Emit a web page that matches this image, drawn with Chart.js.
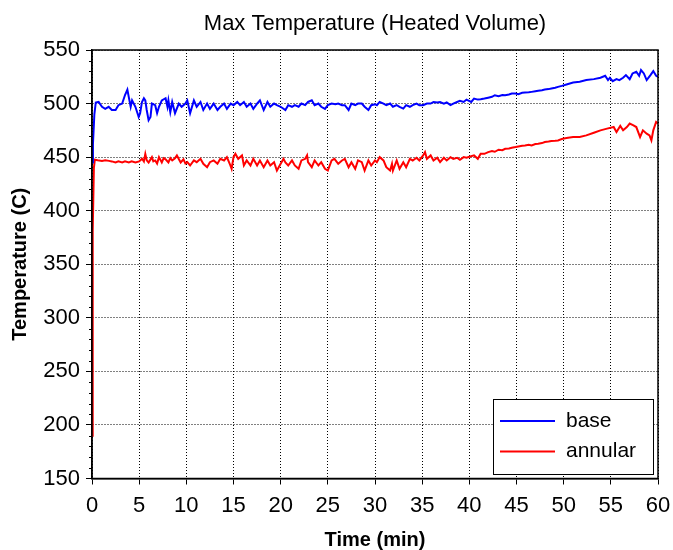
<!DOCTYPE html>
<html>
<head>
<meta charset="utf-8">
<script src="https://cdn.jsdelivr.net/npm/chart.js@4/dist/chart.umd.min.js"></script>
<style>
  html, body { margin: 0; padding: 0; background: #fff; }
  canvas { display: block; }
</style>
</head>
<body>
<canvas id="maxTempChart" width="673" height="550"></canvas>
<script>
// time (min) and max temperature (C) of the heated volume
const baseTime = [0, 0.1, 0.25, 0.4, 0.7, 1.06, 1.4, 1.77, 2.1, 2.5, 2.8, 3.2, 3.5, 3.75, 3.9, 4.1, 4.25, 4.6, 4.95, 5.1,
  5.3, 5.5, 5.65, 5.8, 6.0, 6.2, 6.35, 6.7, 6.9, 7.1, 7.4, 7.8, 8.0, 8.1, 8.3, 8.5, 8.8, 9.2, 9.5, 9.9,
  10.1, 10.4, 10.8, 11.1, 11.5, 11.8, 12.2, 12.5, 12.9, 13.3, 13.6, 14.0, 14.3, 14.7, 15.0, 15.4, 15.7, 16.1, 16.4, 16.8,
  17.1, 17.5, 17.8, 18.2, 18.6, 18.9, 19.3, 19.6, 20.0, 20.5, 20.8, 21.2, 21.5, 21.9, 22.2, 22.6, 22.9, 23.3, 23.6, 24.0,
  24.3, 24.7, 25.0, 25.4, 25.8, 26.1, 26.5, 26.8, 27.2, 27.5, 27.9, 28.2, 28.6, 28.9, 29.3, 29.6, 30.0, 30.2, 30.5, 30.9,
  31.2, 31.6, 31.9, 32.3, 32.6, 33.0, 33.3, 33.7, 34.0, 34.4, 34.7, 35.1, 35.5, 35.9, 36.2, 36.6, 36.9, 37.3, 37.6, 38.0,
  38.3, 38.7, 39.0, 39.4, 39.7, 40.2, 40.5, 40.9, 41.2, 41.6, 42.0, 42.4, 42.7, 43.1, 43.5, 43.8, 44.2, 44.5, 44.9, 45.2,
  45.6, 45.9, 46.3, 46.6, 47.0, 47.3, 47.7, 48.0, 48.4, 48.7, 49.1, 49.4, 49.8, 50.3, 51.0, 51.7, 52.4, 53.2, 53.9, 54.4,
  54.7, 54.9, 55.2, 55.6, 55.9, 56.3, 56.6, 57.0, 57.3, 57.7, 58.0, 58.2, 58.5, 58.8, 59.2, 59.5, 59.8, 60.0];
const baseTemp = [445, 462, 490, 501, 501.5, 497, 495, 497, 494, 494, 498.5, 500, 508, 513, 506, 497, 503, 497, 487.5, 491,
  501.5, 505, 503, 494, 484.5, 487.5, 500, 498.5, 491, 497, 503, 505, 497, 503, 492, 501.5, 491, 500, 497, 500,
  503, 491, 503, 497, 501.5, 494, 500, 495, 500, 494, 497, 500, 495, 500, 498.5, 501.5, 498.5, 501.5, 497, 500,
  495, 500, 503, 494, 501.5, 497, 500, 498.5, 497, 494, 498.5, 497, 498.5, 497, 500, 498.5, 501.5, 503, 498.5, 500,
  497, 495, 498.5, 500, 499.4, 500, 498.5, 498.5, 494, 500, 498.5, 500, 500, 497, 494, 498.5, 499.4, 498.5, 501.5, 500,
  498.5, 500, 497, 498.5, 497, 495.3, 498.5, 497, 498.5, 500, 498.5, 498.5, 500, 500, 501.5, 501, 501.5, 500, 501, 498.5,
  500, 501.5, 502.5, 501.5, 503.7, 501.5, 504.7, 503.7, 504, 504.7, 505.5, 506.3, 507.8, 506.9, 508, 507.8, 508.5, 509.4, 509.4, 508.8,
  510, 510.3, 510.5, 510.9, 511.5, 511.9, 512.5, 513.1, 513.5, 514.1, 514.8, 515.6, 516.5, 517.8, 519.7, 520.3, 521.9, 522.8, 524.1, 525.9,
  521.9, 524.1, 520.9, 522.8, 521.9, 524.1, 526.6, 522.8, 528.1, 529.7, 525.9, 531.3, 528.1, 521.9, 526.6, 530.3, 525.9, 525];

const annularTime = [0, 0.05, 0.1, 0.2, 0.3, 0.6, 1.06, 1.4, 1.8, 2.1, 2.5, 2.8, 3.2, 3.5, 3.9, 4.2, 4.6, 5.0, 5.3, 5.5,
  5.65, 5.8, 6.0, 6.35, 6.5, 6.7, 6.9, 7.1, 7.4, 7.6, 7.8, 8.1, 8.3, 8.5, 8.8, 9.0, 9.4, 9.7, 9.9,
  10.1, 10.4, 10.8, 11.1, 11.5, 11.8, 12.2, 12.5, 12.9, 13.3, 13.6, 14.0, 14.3, 14.6, 14.8, 15.0, 15.2, 15.5, 15.9, 16.1,
  16.4, 16.8, 17.1, 17.5, 17.8, 18.2, 18.6, 18.9, 19.3, 19.6, 20.0, 20.3, 20.5, 20.8, 21.2, 21.5, 21.9, 22.2, 22.6, 22.8,
  22.9, 23.3, 23.6, 24.0, 24.3, 24.7, 25.0, 25.4, 25.7, 26.1, 26.5, 26.8, 27.2, 27.5, 27.9, 28.2, 28.6, 28.9, 29.3, 29.6,
  30.0, 30.2, 30.5, 30.9, 31.2, 31.6, 31.8, 31.9, 32.3, 32.6, 33.0, 33.3, 33.7, 34.0, 34.4, 34.7, 35.1, 35.3, 35.5, 35.9,
  36.2, 36.6, 36.9, 37.3, 37.6, 38.0, 38.3, 38.7, 39.0, 39.4, 39.7, 40.1, 40.5, 40.9, 41.2, 41.6, 42.0, 42.4, 42.7, 43.1,
  43.5, 43.8, 44.2, 44.5, 44.9, 45.2, 45.6, 45.9, 46.3, 46.6, 47.0, 47.3, 47.7, 48.0, 48.4, 48.7, 49.1, 49.4, 49.8, 50.3,
  51.0, 51.7, 52.4, 53.2, 53.9, 54.6, 55.3, 55.6, 56.0, 56.3, 56.7, 57.0, 57.4, 57.7, 58.1, 58.4, 58.8, 59.1, 59.3, 59.5,
  59.8, 60.0];
const annularTemp = [190, 280, 380, 440, 447.5, 447, 446.5, 447, 446.5, 446, 445, 446, 445, 446, 445, 446, 445, 446, 448.5, 446,
  453, 447, 445, 450, 446, 446.9, 444, 450, 445, 449, 448, 445, 449, 446.9, 449, 451.5, 445, 448, 444,
  445.3, 442.2, 446.9, 445.3, 448.4, 443.8, 440.6, 445.3, 446.9, 443.8, 448.4, 446.9, 450, 443.8, 439.1, 450, 453.1, 448.4, 451.6, 442.2,
  446.9, 442.2, 448.4, 442.2, 446.9, 440.6, 446.9, 442.2, 445.3, 437.5, 443.8, 448.4, 445, 442.2, 446.9, 442.2, 439.1, 446.9, 448.4, 451.6,
  445.3, 440.6, 446.9, 442.2, 445.3, 439.1, 437.5, 446.9, 448.4, 443.8, 446.9, 448.4, 440.6, 445.3, 439.1, 446.9, 445.3, 437.5, 446.9, 442.2,
  446.9, 445.3, 450, 446.9, 440.6, 437.5, 443.8, 437.5, 446.9, 439.1, 445.3, 440.6, 448.4, 446.9, 449.4, 446.9, 451.6, 454.7, 448.4, 451.6,
  446.9, 449.4, 445.3, 449.4, 446.9, 450, 448.4, 449.4, 447.5, 450, 449.4, 450.6, 451.6, 448.4, 453.1, 453.1, 454.7, 455.6, 455, 456.9,
  456.5, 457.8, 458.1, 458.8, 459.4, 460, 460.6, 460.9, 461.5, 460.9, 462.2, 462.5, 463.1, 464.1, 464.5, 465, 465.3, 465.6, 466.9, 467.8,
  468.8, 468.8, 470.3, 472.8, 475, 476.6, 478.1, 473.4, 479.1, 475, 478.1, 481.3, 479.7, 478.1, 468.8, 475, 471.9, 470.3, 465.6, 475,
  482.8, 481.3];

const seriesLabels = ['base', 'annular'];
const seriesColors = ['#0000ff', '#ff0000'];

const xMin = 0, xMax = 60, xStep = 5;
const yMin = 150, yMax = 550, yStep = 50, yMinorStep = 10;

const fontFamily = '"Liberation Sans", Arial, sans-serif';

function toPoints(times, temps) {
  return times.map((t, i) => ({ x: t, y: temps[i] }));
}

// full box around the plot, minor y ticks and the boxed legend
const frameAndLegend = {
  id: 'frameAndLegend',
  afterDraw(chart) {
    const ctx = chart.ctx;
    const area = chart.chartArea;
    const yScale = chart.scales.y;

    ctx.save();
    ctx.strokeStyle = '#000';
    ctx.lineWidth = 1;
    for (let v = yMin; v <= yMax; v += yMinorStep) {
      if (v % yStep === 0) continue;
      const py = Math.round(yScale.getPixelForValue(v)) + 0.5;
      ctx.beginPath();
      ctx.moveTo(area.left - 3, py);
      ctx.lineTo(area.left, py);
      ctx.stroke();
    }

    ctx.lineWidth = 1.5;
    ctx.strokeRect(area.left, area.top, area.right - area.left, area.bottom - area.top);

    // legend
    const boxW = 160, boxH = 75;
    const bx = area.right - 5 - boxW;
    const by = area.bottom - 4.5 - boxH;
    ctx.fillStyle = '#fff';
    ctx.fillRect(bx, by, boxW, boxH);
    ctx.lineWidth = 1;
    ctx.strokeStyle = '#000';
    ctx.strokeRect(bx + 0.5, by + 0.5, boxW, boxH);

    ctx.font = '21px ' + fontFamily;
    ctx.textBaseline = 'middle';
    ctx.textAlign = 'left';
    chart.data.datasets.forEach((ds, i) => {
      const ly = by + 22 + i * 30.5;
      ctx.strokeStyle = ds.borderColor;
      ctx.lineWidth = 2;
      ctx.beginPath();
      ctx.moveTo(bx + 7, ly);
      ctx.lineTo(bx + 62, ly);
      ctx.stroke();
      ctx.fillStyle = '#000';
      ctx.fillText(ds.label, bx + 73, ly);
    });
    ctx.restore();
  }
};

const tickFont = { family: fontFamily, size: 22 };
const titleFont = { family: fontFamily, size: 20, weight: 'bold' };

new Chart(document.getElementById('maxTempChart'), {
  type: 'line',
  data: {
    datasets: [
      {
        label: seriesLabels[0],
        data: toPoints(baseTime, baseTemp),
        borderColor: seriesColors[0],
        borderWidth: 2,
        pointRadius: 0,
        tension: 0
      },
      {
        label: seriesLabels[1],
        data: toPoints(annularTime, annularTemp),
        borderColor: seriesColors[1],
        borderWidth: 2,
        pointRadius: 0,
        tension: 0
      }
    ]
  },
  options: {
    responsive: false,
    animation: false,
    devicePixelRatio: 1,
    layout: { padding: { left: 0, right: 15, top: 0, bottom: 0 } },
    plugins: {
      legend: { display: false },
      tooltip: { enabled: false },
      title: {
        display: true,
        text: 'Max Temperature (Heated Volume)',
        fullSize: false,
        color: '#000',
        font: { family: fontFamily, size: 22, weight: 'normal' },
        padding: { top: 11, bottom: 12.6 }
      }
    },
    scales: {
      x: {
        type: 'linear',
        min: xMin,
        max: xMax,
        afterFit(scale) {
          scale.height = 71.5;
          scale.paddingLeft = 0;
          scale.paddingRight = 0;
        },
        ticks: { stepSize: xStep, color: '#000', font: tickFont, padding: 8, maxRotation: 0 },
        grid: { color: '#000', lineWidth: 1, tickLength: 6, tickColor: '#000', tickBorderDash: [] },
        border: { display: true, color: '#000', width: 1.5, dash: [1, 2] },
        title: { display: true, text: 'Time (min)', color: '#000', font: titleFont, padding: { top: 4, bottom: -2 } }
      },
      y: {
        min: yMin,
        max: yMax,
        afterFit(scale) { scale.width = 92; },
        ticks: { stepSize: yStep, color: '#000', font: tickFont, padding: 6 },
        grid: { color: '#000', lineWidth: 1, tickLength: 6, tickColor: '#000', tickBorderDash: [] },
        border: { display: true, color: '#000', width: 1.5, dash: [1, 2] },
        title: { display: true, text: 'Temperature (C)', color: '#000', font: titleFont, padding: { top: 8, bottom: 0 } }
      }
    }
  },
  plugins: [frameAndLegend]
});
</script>
</body>
</html>
